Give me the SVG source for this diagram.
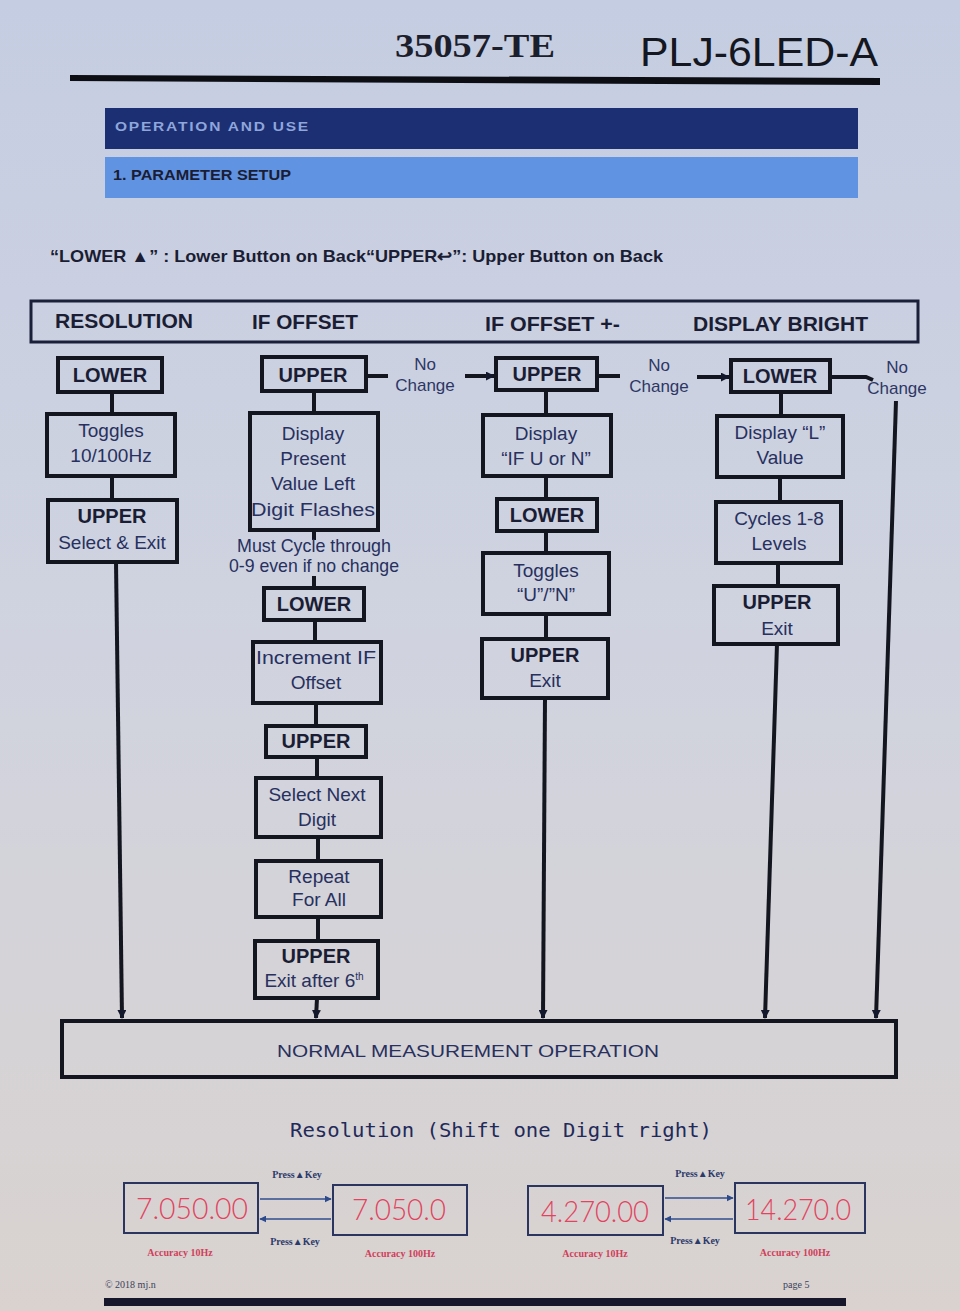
<svg xmlns="http://www.w3.org/2000/svg" width="960" height="1311" viewBox="0 0 960 1311">
<defs>
<linearGradient id="bg" x1="0" y1="0" x2="0" y2="1">
<stop offset="0" stop-color="#c5cde2"/>
<stop offset="0.45" stop-color="#cfd3e0"/>
<stop offset="0.8" stop-color="#d6d3d6"/>
<stop offset="1" stop-color="#d9d2cf"/>
</linearGradient>
<marker id="ah" viewBox="0 0 10 10" refX="9" refY="5" markerWidth="9" markerHeight="9" markerUnits="userSpaceOnUse" orient="auto">
<path d="M0,0 L10,5 L0,10 z" fill="#14182c"/>
</marker>
<marker id="ahb" viewBox="0 0 10 10" refX="9" refY="5" markerWidth="7" markerHeight="7" markerUnits="userSpaceOnUse" orient="auto">
<path d="M0,0 L10,5 L0,10 z" fill="#2c4a8c"/>
</marker>
<style>
.box{fill:none;stroke:#14161f;stroke-width:4}
.lbl{font-family:"Liberation Sans",Arial,sans-serif;font-weight:bold;font-size:20px;fill:#1a1d33;text-anchor:middle}
.txt{font-family:"Liberation Sans",Arial,sans-serif;font-size:19px;fill:#27305e;text-anchor:middle}
.hdr{font-family:"Liberation Sans",Arial,sans-serif;font-weight:bold;font-size:21px;fill:#1a1d33}
.con{stroke:#14161f;stroke-width:4;fill:none}
.nc{font-family:"Liberation Sans",Arial,sans-serif;font-size:17px;fill:#2d3766;text-anchor:middle}
.seg{font-family:"Lato","Liberation Sans",sans-serif;font-weight:300;font-size:29px;fill:#e2445f;text-anchor:middle}
.acc{font-family:"Liberation Serif",serif;font-size:10px;fill:#d0405a;text-anchor:middle;font-weight:bold}
.pk{font-family:"Liberation Serif",serif;font-size:10px;fill:#2c3a6a;text-anchor:middle;font-weight:bold}
.dbox{fill:none;stroke:#2a3560;stroke-width:2}
.arr{stroke:#5a6fa0;stroke-width:2;fill:none}
</style>
</defs>
<rect x="0" y="0" width="960" height="1311" fill="url(#bg)"/>

<!-- page header -->
<g id="header">
<text x="475" y="57" font-family="Liberation Serif,serif" font-weight="bold" font-size="34" fill="#1c1e2c" text-anchor="middle" textLength="160" lengthAdjust="spacingAndGlyphs">35057-TE</text>
<text x="759" y="66" font-family="Liberation Sans,Arial,sans-serif" font-size="40" fill="#141620" text-anchor="middle" textLength="238" lengthAdjust="spacingAndGlyphs">PLJ-6LED-A</text>
<polygon points="70,75 880,78 880,85 70,81" fill="#0d0e14"/>
<rect x="105" y="108" width="753" height="41" fill="#1c2f72"/>
<text x="115" y="131" font-family="Liberation Sans,Arial,sans-serif" font-weight="bold" font-size="13" fill="#8fa6dc" letter-spacing="1.5" textLength="195" lengthAdjust="spacingAndGlyphs">OPERATION AND USE</text>
<rect x="105" y="157" width="753" height="41" fill="#6193e3"/>
<text x="113" y="180" font-family="Liberation Sans,Arial,sans-serif" font-weight="bold" font-size="14" fill="#1a1d33" textLength="178" lengthAdjust="spacingAndGlyphs">1. PARAMETER SETUP</text>
<text x="50" y="262" font-family="Liberation Sans,Arial,sans-serif" font-weight="bold" font-size="17" fill="#1a1d33" textLength="613" lengthAdjust="spacingAndGlyphs">“LOWER ▲” : Lower Button on Back“UPPER↩”: Upper Button on Back</text>
</g>

<!-- column header box -->
<g id="columns">
<rect x="31" y="301" width="887" height="41" fill="none" stroke="#1a1f3a" stroke-width="3"/>
<text class="hdr" x="55" y="328" textLength="138" lengthAdjust="spacingAndGlyphs">RESOLUTION</text>
<text class="hdr" x="252" y="329" textLength="106" lengthAdjust="spacingAndGlyphs">IF OFFSET</text>
<text class="hdr" x="485" y="331" textLength="135" lengthAdjust="spacingAndGlyphs">IF OFFSET +-</text>
<text class="hdr" x="693" y="331" textLength="175" lengthAdjust="spacingAndGlyphs">DISPLAY BRIGHT</text>
</g>

<!-- connectors -->
<g id="connectors">
<line class="con" x1="112" y1="392" x2="112" y2="414"/>
<line class="con" x1="112" y1="476" x2="112" y2="500"/>
<line class="con" x1="116" y1="562" x2="122" y2="1018" stroke-width="3" marker-end="url(#ah)"/>

<line class="con" x1="314" y1="391" x2="314" y2="413"/>
<line class="con" x1="314" y1="530" x2="314" y2="540"/>
<line class="con" x1="314" y1="576" x2="314" y2="588"/>
<line class="con" x1="315" y1="620" x2="315" y2="642"/>
<line class="con" x1="316" y1="703" x2="316" y2="726"/>
<line class="con" x1="317" y1="757" x2="317" y2="778"/>
<line class="con" x1="318" y1="837" x2="318" y2="861"/>
<line class="con" x1="318" y1="917" x2="318" y2="941"/>
<line class="con" x1="317" y1="998" x2="316" y2="1018" stroke-width="3" marker-end="url(#ah)"/>

<line class="con" x1="366" y1="376" x2="388" y2="376"/>
<text class="nc" x="425" y="370">No</text>
<text class="nc" x="425" y="391">Change</text>
<line class="con" x1="465" y1="376" x2="494" y2="376" marker-end="url(#ah)"/>

<line class="con" x1="546" y1="390" x2="546" y2="415"/>
<line class="con" x1="546" y1="476" x2="546" y2="499"/>
<line class="con" x1="546" y1="531" x2="546" y2="553"/>
<line class="con" x1="546" y1="614" x2="546" y2="639"/>
<line class="con" x1="545" y1="698" x2="543" y2="1018" stroke-width="3" marker-end="url(#ah)"/>

<line class="con" x1="597" y1="376" x2="620" y2="376"/>
<text class="nc" x="659" y="371">No</text>
<text class="nc" x="659" y="392">Change</text>
<line class="con" x1="697" y1="377" x2="729" y2="377" marker-end="url(#ah)"/>

<line class="con" x1="781" y1="392" x2="781" y2="416"/>
<line class="con" x1="780" y1="477" x2="780" y2="502"/>
<line class="con" x1="778" y1="563" x2="778" y2="586"/>
<line class="con" x1="777" y1="644" x2="765" y2="1018" stroke-width="3" marker-end="url(#ah)"/>

<polyline class="con" points="830,377 866,377 873,380"/>
<text class="nc" x="897" y="373">No</text>
<text class="nc" x="897" y="394">Change</text>
<line class="con" x1="896" y1="401" x2="876" y2="1018" stroke-width="3" marker-end="url(#ah)"/>
</g>

<!-- column 1 -->
<g id="c1-lower"><rect class="box" x="58" y="358" width="104" height="34"/><text class="lbl" x="110" y="382">LOWER</text></g>
<g id="c1-toggles"><rect class="box" x="47" y="414" width="128" height="62"/><text class="txt" x="111" y="437">Toggles</text><text class="txt" x="111" y="462">10/100Hz</text></g>
<g id="c1-upper"><rect class="box" x="48" y="500" width="129" height="62"/><text class="lbl" x="112" y="523">UPPER</text><text class="txt" x="112" y="549">Select &amp; Exit</text></g>

<!-- column 2 -->
<g id="c2-upper"><rect class="box" x="262" y="357" width="104" height="34"/><text class="lbl" x="313" y="382">UPPER</text></g>
<g id="c2-display"><rect class="box" x="250" y="413" width="128" height="117"/><text class="txt" x="313" y="440">Display</text><text class="txt" x="313" y="465">Present</text><text class="txt" x="313" y="490">Value Left</text><text class="txt" x="313" y="516" textLength="124" lengthAdjust="spacingAndGlyphs">Digit Flashes</text></g>
<g id="c2-note"><text class="txt" x="314" y="552" font-size="15" textLength="154" lengthAdjust="spacingAndGlyphs">Must Cycle through</text><text class="txt" x="314" y="572" font-size="15" textLength="170" lengthAdjust="spacingAndGlyphs">0-9 even if no change</text></g>
<g id="c2-lower"><rect class="box" x="264" y="588" width="100" height="32"/><text class="lbl" x="314" y="611">LOWER</text></g>
<g id="c2-increment"><rect class="box" x="253" y="642" width="128" height="61"/><text class="txt" x="316" y="664" textLength="120" lengthAdjust="spacingAndGlyphs">Increment IF</text><text class="txt" x="316" y="689">Offset</text></g>
<g id="c2-upper2"><rect class="box" x="266" y="726" width="100" height="31"/><text class="lbl" x="316" y="748">UPPER</text></g>
<g id="c2-select"><rect class="box" x="256" y="778" width="125" height="59"/><text class="txt" x="317" y="801">Select Next</text><text class="txt" x="317" y="826">Digit</text></g>
<g id="c2-repeat"><rect class="box" x="256" y="861" width="125" height="56"/><text class="txt" x="319" y="883">Repeat</text><text class="txt" x="319" y="906">For All</text></g>
<g id="c2-exit"><rect class="box" x="255" y="941" width="123" height="57"/><text class="lbl" x="316" y="963">UPPER</text><text class="txt" x="314" y="987" font-size="18">Exit after  6<tspan font-size="10" dy="-7">th</tspan></text></g>

<!-- column 3 -->
<g id="c3-upper"><rect class="box" x="496" y="358" width="101" height="32"/><text class="lbl" x="547" y="381">UPPER</text></g>
<g id="c3-display"><rect class="box" x="483" y="415" width="128" height="61"/><text class="txt" x="546" y="440">Display</text><text class="txt" x="546" y="465">“IF U or N”</text></g>
<g id="c3-lower"><rect class="box" x="497" y="499" width="100" height="32"/><text class="lbl" x="547" y="522">LOWER</text></g>
<g id="c3-toggles"><rect class="box" x="483" y="553" width="126" height="61"/><text class="txt" x="546" y="577">Toggles</text><text class="txt" x="546" y="601">“U”/”N”</text></g>
<g id="c3-upper2"><rect class="box" x="482" y="639" width="126" height="59"/><text class="lbl" x="545" y="662">UPPER</text><text class="txt" x="545" y="687">Exit</text></g>

<!-- column 4 -->
<g id="c4-lower"><rect class="box" x="731" y="360" width="99" height="32"/><text class="lbl" x="780" y="383">LOWER</text></g>
<g id="c4-display"><rect class="box" x="717" y="416" width="126" height="61"/><text class="txt" x="780" y="439">Display “L”</text><text class="txt" x="780" y="464">Value</text></g>
<g id="c4-cycles"><rect class="box" x="716" y="502" width="125" height="61"/><text class="txt" x="779" y="525">Cycles 1-8</text><text class="txt" x="779" y="550">Levels</text></g>
<g id="c4-upper"><rect class="box" x="714" y="586" width="124" height="58"/><text class="lbl" x="777" y="609">UPPER</text><text class="txt" x="777" y="635">Exit</text></g>

<!-- normal measurement -->
<g id="normal">
<rect x="62" y="1021" width="834" height="56" fill="none" stroke="#14161f" stroke-width="4"/>
<text x="468" y="1057" font-family="Liberation Sans,Arial,sans-serif" font-size="17" fill="#27305e" text-anchor="middle" textLength="382" lengthAdjust="spacingAndGlyphs">NORMAL MEASUREMENT  OPERATION</text>
</g>

<!-- resolution example -->
<g id="resolution">
<text x="501" y="1137" font-family="DejaVu Sans Mono,Liberation Mono,monospace" font-size="20" fill="#1f2a5a" text-anchor="middle" textLength="422" lengthAdjust="spacingAndGlyphs">Resolution (Shift one Digit right)</text>
</g>
<g id="disp1"><rect class="dbox" x="124" y="1183" width="134" height="50"/><text class="seg" x="192" y="1219" textLength="112" lengthAdjust="spacingAndGlyphs">7.050.00</text><text class="acc" x="180" y="1256">Accuracy 10Hz</text></g>
<g id="disp2"><rect class="dbox" x="333" y="1185" width="134" height="50"/><text class="seg" x="399" y="1220" textLength="94" lengthAdjust="spacingAndGlyphs">7.050.0</text><text class="acc" x="400" y="1257">Accuracy 100Hz</text></g>
<g id="disp3"><rect class="dbox" x="528" y="1186" width="135" height="49"/><text class="seg" x="595" y="1222" textLength="108" lengthAdjust="spacingAndGlyphs">4.270.00</text><text class="acc" x="595" y="1257">Accuracy 10Hz</text></g>
<g id="disp4"><rect class="dbox" x="735" y="1183" width="130" height="50"/><text class="seg" x="798" y="1220" textLength="106" lengthAdjust="spacingAndGlyphs">14.270.0</text><text class="acc" x="795" y="1256">Accuracy 100Hz</text></g>
<g id="press-arrows">
<text class="pk" x="297" y="1178">Press▲Key</text>
<line class="arr" x1="260" y1="1199" x2="331" y2="1199" marker-end="url(#ahb)"/>
<line class="arr" x1="331" y1="1219" x2="260" y2="1219" marker-end="url(#ahb)"/>
<text class="pk" x="295" y="1245">Press▲Key</text>
<text class="pk" x="700" y="1177">Press▲Key</text>
<line class="arr" x1="665" y1="1198" x2="733" y2="1198" marker-end="url(#ahb)"/>
<line class="arr" x1="733" y1="1219" x2="665" y2="1219" marker-end="url(#ahb)"/>
<text class="pk" x="695" y="1244">Press▲Key</text>
</g>
<g id="footer">
<text x="105" y="1288" font-family="Liberation Serif,serif" font-size="10" fill="#3a3f5a">© 2018 mj.n</text>
<text x="783" y="1288" font-family="Liberation Serif,serif" font-size="10" fill="#3a3f5a">page  5</text>
<rect x="104" y="1298" width="742" height="8" fill="#16172a"/>
</g>
</svg>
